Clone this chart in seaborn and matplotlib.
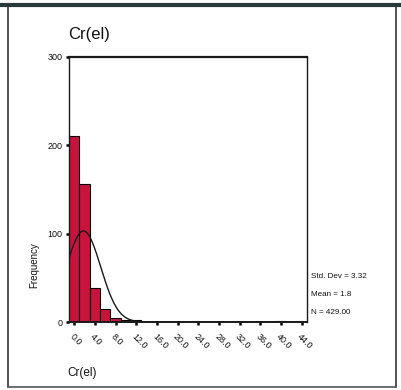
import numpy as np
import pandas as pd
import matplotlib
matplotlib.use("Agg")
import matplotlib.pyplot as plt
from matplotlib.lines import Line2D
from matplotlib.transforms import ScaledTranslation
import seaborn as sns

# Histogram of Cr(el): bin midpoints (width 2) and their frequencies
bin_mids = [0, 2, 4, 6, 8, 10, 12, 40]
frequencies = [210, 156, 38, 15, 5, 2, 2, 1]
bin_width = 2.0

# Summary statistics printed beside the chart
std_dev = 3.32
mean = 1.8
n_cases = 429

x_ticks = [0, 4, 8, 12, 16, 20, 24, 28, 32, 36, 40, 44]
x_tick_labels = ["0.0", "4.0", "8.0", "12.0", "16.0", "20.0", "24.0",
                 "28.0", "32.0", "36.0", "40.0", "44.0"]
y_ticks = [0, 100, 200, 300]

sns.set_theme(style="white")
plt.rcParams["font.family"] = ["Liberation Sans", "DejaVu Sans"]

fig = plt.figure(figsize=(4.02, 3.90), dpi=100)
fig.patch.set_facecolor("white")
ax = fig.add_axes([69 / 402, 1 - 322 / 390, 238 / 402, 265 / 390])

df = pd.DataFrame({"value": bin_mids, "count": frequencies})
sns.histplot(data=df, x="value", weights="count", binwidth=bin_width,
             binrange=(-1, 45), ax=ax, color="#c8143c", alpha=1.0,
             edgecolor="black", linewidth=0.8)

# Normal curve scaled to the histogram
xs = np.linspace(-1, 45, 400)
ys = n_cases * bin_width / (std_dev * np.sqrt(2 * np.pi)) * \
    np.exp(-0.5 * ((xs - mean) / std_dev) ** 2)
sns.lineplot(x=xs, y=ys, ax=ax, color="#1a1a1a", linewidth=1.0)

ax.set_xlim(-1, 45)
ax.set_ylim(0, 300)
ax.set_xticks(x_ticks)
ax.set_xticklabels(x_tick_labels, rotation=-45, ha="left", va="top",
                   rotation_mode="anchor", fontsize=6.5, color="#111111")
shift = ScaledTranslation(4 / 72, 0, fig.dpi_scale_trans)
for lbl in ax.get_xticklabels():
    lbl.set_transform(lbl.get_transform() + shift)
ax.set_yticks(y_ticks)
ax.set_yticklabels([str(v) for v in y_ticks], fontsize=6.5, color="#111111")
ax.tick_params(axis="both", direction="out", length=2.5, width=1.8,
               color="black", pad=2, bottom=True, left=True)
ax.tick_params(axis="x", pad=5)
ax.set_xlabel("")
ax.set_ylabel("")
for side, sp in ax.spines.items():
    sp.set_color("#1a1a1a")
    sp.set_linewidth(1.0)
ax.spines["top"].set_linewidth(1.6)
ax.spines["bottom"].set_linewidth(1.4)

# Title, axis captions and statistics
fig.text(68 / 402, 1 - 35 / 390, "Cr(el)", fontsize=12, ha="left",
         va="center", color="#111111")
fig.text(67 / 402, 1 - 373 / 390, "Cr(el)", fontsize=8.5, ha="left",
         va="center", color="#111111")
fig.text(34 / 402, 1 - 265 / 390, "Frequency", fontsize=7, rotation=90,
         ha="center", va="center", color="#111111")
fig.text(311 / 402, 1 - 277 / 390, f"Std. Dev = {std_dev:.2f}", fontsize=5.8,
         ha="left", va="center", color="#111111")
fig.text(311 / 402, 1 - 295 / 390, f"Mean = {mean:.1f}", fontsize=5.8,
         ha="left", va="center", color="#111111")
fig.text(311 / 402, 1 - 312 / 390, f"N = {n_cases:.2f}", fontsize=5.8,
         ha="left", va="center", color="#111111")

# Outer frame of the panel
fig.add_artist(Line2D([0, 1], [1 - 5 / 390, 1 - 5 / 390],
                      transform=fig.transFigure, color="#2a3a3a", linewidth=3))
fig.add_artist(Line2D([8 / 402, 8 / 402], [1 - 5 / 390, 1 - 387 / 390],
                      transform=fig.transFigure, color="#333333", linewidth=1.2))
fig.add_artist(Line2D([396 / 402, 396 / 402], [1 - 5 / 390, 1 - 387 / 390],
                      transform=fig.transFigure, color="#333333", linewidth=1.2))
fig.add_artist(Line2D([8 / 402, 396 / 402], [1 - 387 / 390, 1 - 387 / 390],
                      transform=fig.transFigure, color="#555555", linewidth=1.2))

fig.savefig("out.png", dpi=100)
